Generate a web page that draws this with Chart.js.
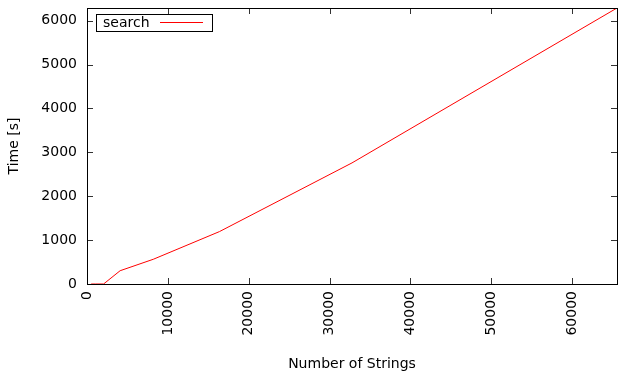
<!DOCTYPE html>
<html>
<head>
<meta charset="utf-8">
<script src="https://cdn.jsdelivr.net/npm/chart.js@4"></script>
<style>
  body { margin: 0; background: #fff; }
  canvas { display: block; }
</style>
</head>
<body>
<canvas id="chart" width="621" height="376"></canvas>
<script>
/* ---------- data ---------- */
const strings = [512, 1024, 2048, 4096, 8192, 16384, 32768, 65536];
const searchTime = [0, 0, 0, 303, 563, 1195, 2760, 6290];
const xTicks = [0, 10000, 20000, 30000, 40000, 50000, 60000];
const yTicks = [0, 1000, 2000, 3000, 4000, 5000, 6000];

const FONT = "DejaVu Sans";
const SIZE = 14;

/* ---------- gnuplot style frame, inward ticks, legend ---------- */
const gnuplotFrame = {
    id: "gnuplotFrame",
    afterDatasetsDraw(chart) {
        const c = chart.ctx;
        const a = chart.chartArea;
        const xs = chart.scales.x;
        const ys = chart.scales.y;
        const len = 6;

        c.save();
        c.lineWidth = 1;
        c.strokeStyle = "#333";
        c.beginPath();
        xTicks.forEach(v => {
            const px = Math.round(xs.getPixelForValue(v)) + 0.5;
            c.moveTo(px, a.bottom); c.lineTo(px, a.bottom - len);
            c.moveTo(px, a.top); c.lineTo(px, a.top + len);
        });
        yTicks.forEach(v => {
            const py = Math.round(ys.getPixelForValue(v)) + 0.5;
            c.moveTo(a.left, py); c.lineTo(a.left + len, py);
            c.moveTo(a.right, py); c.lineTo(a.right - len, py);
        });
        c.stroke();

        c.strokeStyle = "#000";
        c.strokeRect(Math.round(a.left) + 0.5, Math.round(a.top) + 0.5,
                     Math.round(a.right - a.left), Math.round(a.bottom - a.top));

        /* legend box */
        c.strokeRect(96.5, 14.5, 116, 17);
        c.fillStyle = "#000";
        c.font = SIZE + "px '" + FONT + "'";
        c.textBaseline = "middle";
        c.fillText(chart.data.datasets[0].label, 103, 23);
        c.strokeStyle = "#ff0000";
        c.beginPath();
        c.moveTo(160, 22.5); c.lineTo(203, 22.5);
        c.stroke();
        c.restore();
    }
};

const ctx = document.getElementById("chart");

new Chart(ctx, {
    type: "line",
    data: {
        datasets: [{
            label: "search",
            data: strings.map((s, i) => ({ x: s, y: searchTime[i] })),
            borderColor: "#ff0000",
            borderWidth: 1,
            pointRadius: 0,
            tension: 0,
            fill: false
        }]
    },
    options: {
        responsive: false,
        animation: false,
        layout: { padding: { top: 8, right: 4, left: 0, bottom: 0 } },
        plugins: {
            legend: { display: false },
            tooltip: { enabled: false }
        },
        scales: {
            x: {
                type: "linear",
                min: 0,
                max: 65536,
                afterBuildTicks: s => { s.ticks = xTicks.map(v => ({ value: v })); },
                afterFit: s => { s.height = 92; s.paddingLeft = 0; s.paddingRight = 0; },
                grid: { display: false, drawTicks: false },
                border: { display: false },
                ticks: {
                    color: "#000",
                    font: { family: FONT, size: SIZE },
                    minRotation: 90,
                    maxRotation: 90,
                    padding: 7,
                    callback: v => String(v)
                },
                title: {
                    display: true,
                    text: "Number of Strings",
                    color: "#000",
                    font: { family: FONT, size: SIZE },
                    padding: { top: 0, bottom: 3 }
                }
            },
            y: {
                type: "linear",
                min: 0,
                max: 6290,
                afterBuildTicks: s => { s.ticks = yTicks.map(v => ({ value: v })); },
                afterFit: s => { s.width = 87; s.paddingTop = 0; s.paddingBottom = 0; },
                grid: { display: false, drawTicks: false },
                border: { display: false },
                ticks: {
                    color: "#000",
                    font: { family: FONT, size: SIZE },
                    padding: 10,
                    callback: v => String(v)
                },
                title: {
                    display: true,
                    text: "Time [s]",
                    color: "#000",
                    font: { family: FONT, size: SIZE },
                    padding: { top: 6, bottom: 0 }
                }
            }
        }
    },
    plugins: [gnuplotFrame]
});
</script>
</body>
</html>
